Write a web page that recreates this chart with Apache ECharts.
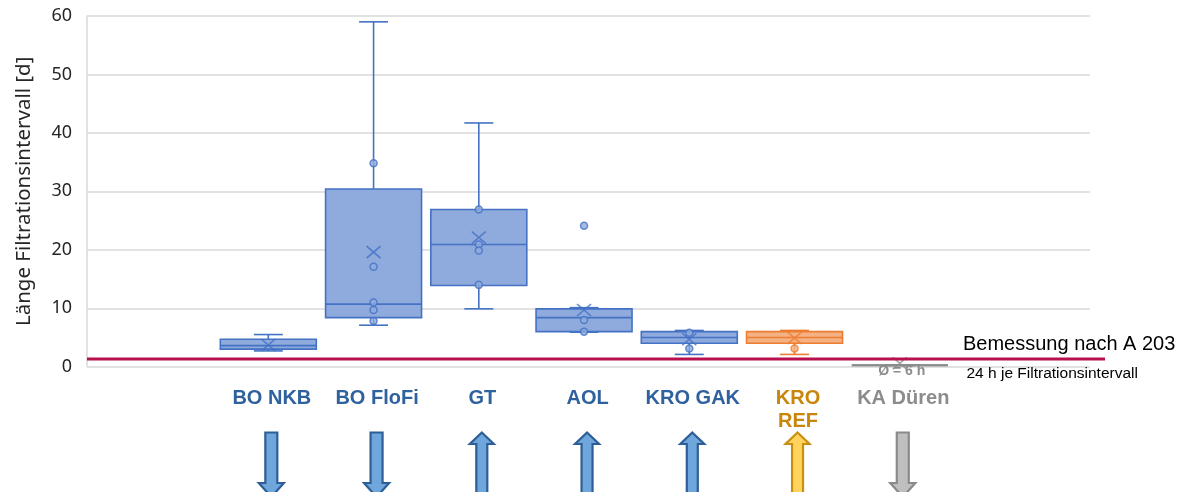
<!DOCTYPE html>
<html><head><meta charset="utf-8">
<script src="https://cdn.jsdelivr.net/npm/echarts@6/dist/echarts.min.js"></script>
<style>html,body{margin:0;padding:0;background:#fff}#c{width:1191px;height:492px}</style>
</head><body><div id="c"></div>
<script>
// ---- data ----
const categories = ['BO NKB', 'BO FloFi', 'GT', 'AOL', 'KRO GAK', 'KRO\nREF', 'KA Düren'];
const boxMin    = [2.7, 7.1,  9.9, 5.9,  2.1, 2.1, 0.25];
const boxQ1     = [3.0, 8.4, 13.9, 6.0,  4.0, 4.0, 0.25];
const boxMedian = [3.6, 10.7, 20.9, 8.4, 5.0, 5.0, 0.25];
const boxQ3     = [4.7, 30.4, 26.9, 9.9, 6.0, 6.0, 0.25];
const boxMax    = [5.5, 59.0, 41.7, 10.1, 6.2, 6.2, 0.25];
const means     = [3.7, 19.6, 22.1, 9.7, 4.7, 4.9, 0.6];
const innerPoints = [[], [34.8, 17.1, 11.0, 9.7, 7.8], [26.9, 20.9, 19.9, 14.0], [24.1, 8.0, 6.0], [5.8, 3.1], [3.1], []];
const yTicks = [0, 10, 20, 30, 40, 50, 60];
const designValue = 1.3;           // red line "Bemessung nach A 203"
const arrowDirections = ['down', 'down', 'up', 'up', 'up', 'up', 'down'];
const groups = ['blue', 'blue', 'blue', 'blue', 'blue', 'orange', 'grey'];

// ---- styles ----
const palette = {
  blue:   { fill: '#8FAADC', line: '#4472C4', label: '#2E619E', arrowFill: '#6FA6DC', arrowLine: '#2E5E96' },
  orange: { fill: '#F4B183', line: '#ED7D31', label: '#C8860A', arrowFill: '#FFD35E', arrowLine: '#C8900F' },
  grey:   { fill: '#A6A6A6', line: '#8C8C8C', label: '#8C8C8C', arrowFill: '#BFBFBF', arrowLine: '#8A8A8A' }
};
const st = i => palette[groups[i]];

const boxData = categories.map((c, i) => [i, boxMin[i], boxQ1[i], boxMedian[i], boxQ3[i], boxMax[i]]);
const meanData = means.map((v, i) => ({ value: [i, v],
  itemStyle: { color: 'rgba(0,0,0,0)', borderColor: st(i).line, borderWidth: 1.6 } }));
const pointData = [];
innerPoints.forEach((arr, i) => arr.forEach(v => pointData.push({ value: [i, v],
  itemStyle: { color: st(i).fill, borderColor: st(i).line, borderWidth: 1.5 } })));

const chart = echarts.init(document.getElementById('c'), null, { renderer: 'canvas' });
const TOP = 16, BOTTOM = 125.3;

chart.setOption({
  animation: false,
  backgroundColor: '#fff',
  grid: [
    { left: 87, right: 101, top: TOP, bottom: BOTTOM },
    { left: 215.7, right: 238.6, top: TOP, bottom: BOTTOM }
  ],
  xAxis: [
    { gridIndex: 0, type: 'value', min: 0, max: 1, show: false },
    {
      gridIndex: 1, type: 'category', data: categories,
      axisLine: { show: false }, axisTick: { show: false }, splitLine: { show: false },
      axisLabel: {
        interval: 0, margin: 20, padding: [0, 0, 0, 7],
        fontFamily: 'Liberation Sans, Arial, sans-serif', fontWeight: 'bold', fontSize: 20, lineHeight: 23,
        color: (v, i) => st(i).label
      }
    }
  ],
  yAxis: [
    {
      gridIndex: 0, type: 'value', min: yTicks[0], max: yTicks[yTicks.length - 1], interval: 10,
      name: 'Länge Filtrationsintervall [d]', nameLocation: 'middle', nameGap: 52, nameRotate: 90,
      nameTextStyle: { fontFamily: 'Noto Sans, sans-serif', fontSize: 20.5, color: '#262626' },
      axisLine: { show: true, lineStyle: { color: '#D9D9D9', width: 1.5 } },
      axisTick: { show: false },
      axisLabel: { margin: 15, fontFamily: 'Noto Sans, sans-serif', fontSize: 18, color: '#262626' },
      splitLine: { show: true, lineStyle: { color: '#D9D9D9', width: 1.5 } }
    },
    { gridIndex: 1, type: 'value', min: yTicks[0], max: yTicks[yTicks.length - 1], show: false }
  ],
  series: [
    {
      type: 'custom', xAxisIndex: 1, yAxisIndex: 1, data: boxData,
      encode: { x: 0, y: [1, 2, 3, 4, 5] },
      renderItem: (params, api) => {
        const i = api.value(0);
        const pMin = api.coord([i, api.value(1)]);
        const pQ1 = api.coord([i, api.value(2)]);
        const pMed = api.coord([i, api.value(3)]);
        const pQ3 = api.coord([i, api.value(4)]);
        const pMax = api.coord([i, api.value(5)]);
        const band = api.size([1, 0])[0];
        const bw = band * 0.912, cw = band * 0.275;
        const s = st(i);
        const x = pMed[0];
        const lw = groups[i] === 'grey' ? 2 : 1.6;
        const ls = { stroke: s.line, lineWidth: lw };
        return {
          type: 'group', children: [
            { type: 'line', shape: { x1: x, y1: pQ3[1], x2: x, y2: pMax[1] }, style: ls },
            { type: 'line', shape: { x1: x, y1: pQ1[1], x2: x, y2: pMin[1] }, style: ls },
            { type: 'line', shape: { x1: x - cw / 2, y1: pMax[1], x2: x + cw / 2, y2: pMax[1] }, style: ls },
            { type: 'line', shape: { x1: x - cw / 2, y1: pMin[1], x2: x + cw / 2, y2: pMin[1] }, style: ls },
            { type: 'rect', shape: { x: x - bw / 2, y: pQ3[1], width: bw, height: pQ1[1] - pQ3[1] },
              style: { fill: s.fill, stroke: s.line, lineWidth: lw } },
            { type: 'line', shape: { x1: x - bw / 2, y1: pMed[1], x2: x + bw / 2, y2: pMed[1] }, style: ls }
          ]
        };
      },
      z: 2
    },
    {
      type: 'scatter', xAxisIndex: 1, yAxisIndex: 1, data: pointData,
      symbol: 'circle', symbolSize: 7, z: 3
    },
    {
      type: 'scatter', xAxisIndex: 1, yAxisIndex: 1, data: meanData,
      symbol: 'path://M0,0L10,10M10,0L0,10', symbolSize: [14, 12], z: 4
    }
  ]
});

// ---- annotations: red design line, texts, arrows ----
const gridLeft = chart.convertToPixel({ xAxisIndex: 0 }, 0);
const yDesign = chart.convertToPixel({ yAxisIndex: 0 }, designValue);
const graphics = [
  { type: 'line', shape: { x1: gridLeft, y1: yDesign, x2: 1105, y2: yDesign },
    style: { stroke: '#B8104E', lineWidth: 3 }, z: 5 },
  { type: 'text', x: 963, y: 344.5, style: { text: 'Bemessung nach A 203', fill: '#000',
    font: '20px "Liberation Sans", Arial, sans-serif', textVerticalAlign: 'middle' }, z: 6 },
  { type: 'text', x: 966.5, y: 374, style: { text: '24 h je Filtrationsintervall', fill: '#000',
    font: '15.5px "Liberation Sans", Arial, sans-serif', textVerticalAlign: 'middle' }, z: 6 }
];
const kaIdx = categories.length - 1;
const kaX = chart.convertToPixel({ xAxisIndex: 1 }, kaIdx);
const kaY = chart.convertToPixel({ yAxisIndex: 1 }, boxMedian[kaIdx]);
graphics.push({ type: 'text', x: kaX + 2, y: kaY - 1, style: { text: 'Ø = 6 h', fill: '#8C8C8C',
  font: 'bold 14px "Liberation Sans", Arial, sans-serif', textAlign: 'center', textVerticalAlign: 'top' }, z: 1 });

categories.forEach((c, i) => {
  const x = chart.convertToPixel({ xAxisIndex: 1 }, i) + 3;
  const s = st(i);
  let pts;
  if (arrowDirections[i] === 'down') {
    const top = 432.5, hs = 483, tip = 497, sh = 6, hh = 12.5;
    pts = [[x - sh, top], [x + sh, top], [x + sh, hs], [x + hh, hs], [x, tip], [x - hh, hs], [x - sh, hs]];
  } else {
    const tip = 432.5, hb = 444, bot = 500, sh = 5.5, hh = 12;
    pts = [[x, tip], [x + hh, hb], [x + sh, hb], [x + sh, bot], [x - sh, bot], [x - sh, hb], [x - hh, hb]];
  }
  graphics.push({ type: 'polygon', shape: { points: pts },
    style: { fill: s.arrowFill, stroke: s.arrowLine, lineWidth: 2.2, lineJoin: 'miter' }, z: 6 });
});
chart.setOption({ graphic: graphics });
</script></body></html>
